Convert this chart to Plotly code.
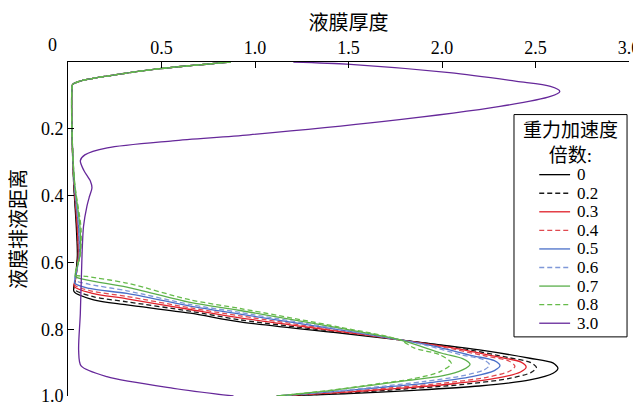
import plotly.graph_objects as go

# ---------------- data ----------------
series_names = ["0", "0.2", "0.3", "0.4", "0.5", "0.6", "0.7", "0.8", "3.0"]
series_colors = ["#000000", "#1a1a1a", "#e0202a", "#e04a50", "#4a6fc8", "#7f98d8",
                 "#5aae4a", "#66bb4a", "#66289a"]
series_dash = ["solid", "5px,3px", "solid", "5px,3px", "solid", "5px,3px", "solid", "5px,3px", "solid"]

# shared upper part of the curves for g = 0 ... 0.8
x_top = [0.87, 0.49, 0.21, 0.066, 0.025, 0.021, 0.021]
y_top = [0.0, 0.02, 0.042, 0.057, 0.067, 0.082, 0.2]

x_g00 = [0.03, 0.045, 0.05, 0.038, 0.032, 0.137, 0.315, 0.653, 0.92, 1.455, 1.775, 2.2, 2.47, 2.593, 2.62, 2.594, 2.47, 2.2, 1.85, 1.5, 1.117]
y_g00 = [0.36, 0.5, 0.58, 0.655, 0.687, 0.712, 0.727, 0.752, 0.778, 0.812, 0.832, 0.862, 0.887, 0.901, 0.917, 0.932, 0.952, 0.970, 0.983, 0.993, 1.0]

x_g02 = [0.031, 0.048, 0.052, 0.04, 0.033, 0.13, 0.315, 0.653, 0.92, 1.455, 1.775, 2.1, 2.355, 2.475, 2.505, 2.475, 2.355, 2.1, 1.8, 1.5, 1.117]
y_g02 = [0.36, 0.5, 0.58, 0.65, 0.680, 0.702, 0.718, 0.746, 0.772, 0.809, 0.832, 0.857, 0.885, 0.90, 0.915, 0.93, 0.948, 0.966, 0.979, 0.991, 1.0]

x_g03 = [0.032, 0.05, 0.055, 0.042, 0.034, 0.125, 0.315, 0.653, 0.92, 1.455, 1.775, 2.05, 2.3, 2.42, 2.45, 2.42, 2.3, 2.05, 1.75, 1.45, 1.117]
y_g03 = [0.36, 0.5, 0.58, 0.645, 0.672, 0.692, 0.709, 0.741, 0.766, 0.807, 0.832, 0.855, 0.883, 0.898, 0.913, 0.928, 0.946, 0.964, 0.978, 0.99, 1.0]

x_g04 = [0.032, 0.053, 0.057, 0.043, 0.035, 0.12, 0.315, 0.653, 0.92, 1.455, 1.775, 2.0, 2.24, 2.36, 2.39, 2.36, 2.24, 2.0, 1.72, 1.45, 1.117]
y_g04 = [0.36, 0.5, 0.58, 0.64, 0.667, 0.685, 0.702, 0.736, 0.760, 0.805, 0.832, 0.853, 0.881, 0.896, 0.911, 0.926, 0.944, 0.962, 0.976, 0.988, 1.0]

x_g05 = [0.033, 0.057, 0.06, 0.044, 0.036, 0.115, 0.315, 0.653, 0.92, 1.455, 1.775, 1.95, 2.16, 2.28, 2.31, 2.28, 2.16, 1.95, 1.7, 1.42, 1.117]
y_g05 = [0.36, 0.5, 0.58, 0.635, 0.662, 0.678, 0.693, 0.731, 0.755, 0.802, 0.832, 0.850, 0.879, 0.894, 0.909, 0.924, 0.942, 0.959, 0.973, 0.987, 1.0]

x_g06 = [0.034, 0.06, 0.062, 0.045, 0.037, 0.11, 0.315, 0.653, 0.92, 1.455, 1.775, 1.92, 2.105, 2.225, 2.255, 2.225, 2.105, 1.9, 1.68, 1.42, 1.117]
y_g06 = [0.36, 0.5, 0.58, 0.625, 0.652, 0.665, 0.685, 0.726, 0.750, 0.800, 0.832, 0.849, 0.877, 0.892, 0.907, 0.922, 0.94, 0.957, 0.971, 0.986, 1.0]

x_g07 = [0.035, 0.065, 0.064, 0.047, 0.039, 0.105, 0.315, 0.653, 0.92, 1.455, 1.775, 2.0, 2.11, 2.15, 2.11, 2.0, 1.8, 1.62, 1.4, 1.117]
y_g07 = [0.36, 0.5, 0.58, 0.617, 0.642, 0.653, 0.674, 0.720, 0.744, 0.797, 0.832, 0.872, 0.888, 0.905, 0.922, 0.94, 0.955, 0.968, 0.984, 1.0]

x_g08 = [0.035, 0.07, 0.065, 0.048, 0.04, 0.10, 0.315, 0.653, 0.92, 1.455, 1.775, 1.85, 1.99, 2.05, 1.99, 1.85, 1.65, 1.4, 1.117]
y_g08 = [0.36, 0.5, 0.58, 0.612, 0.637, 0.642, 0.662, 0.712, 0.738, 0.794, 0.832, 0.856, 0.877, 0.902, 0.927, 0.948, 0.964, 0.983, 1.0]

x_g30 = [1.205, 1.51, 2.04, 2.40, 2.58, 2.63, 2.58, 2.31, 1.69, 0.97, 0.56, 0.21, 0.09, 0.066, 0.085, 0.12, 0.128, 0.115, 0.101, 0.083, 0.075, 0.066, 0.057, 0.07, 0.208, 0.564, 0.885]
y_g30 = [0.0, 0.007, 0.032, 0.058, 0.073, 0.088, 0.103, 0.133, 0.178, 0.218, 0.236, 0.257, 0.278, 0.295, 0.325, 0.357, 0.377, 0.402, 0.432, 0.492, 0.577, 0.752, 0.865, 0.91, 0.942, 0.977, 1.0]

x_tick_vals = [0, 0.5, 1.0, 1.5, 2.0, 2.5, 3.0]
x_tick_text = ["", "0.5", "1.0", "1.5", "2.0", "2.5", "3.0"]
y_tick_vals = [0.2, 0.4, 0.6, 0.8, 1.0]
y_tick_text = ["0.2", "0.4", "0.6", "0.8", "1.0"]

x_title = "液膜厚度"
y_title = "液膜排液距离"
legend_title = "重力加速度<br>倍数:"

xs = [x_top + x_g00, x_top + x_g02, x_top + x_g03, x_top + x_g04, x_top + x_g05,
      x_top + x_g06, x_top + x_g07, x_top + x_g08, x_g30]
ys = [y_top + y_g00, y_top + y_g02, y_top + y_g03, y_top + y_g04, y_top + y_g05,
      y_top + y_g06, y_top + y_g07, y_top + y_g08, y_g30]

FONT = "Times New Roman, Liberation Serif, Noto Sans CJK SC, serif"

fig = go.Figure()
for name, xv, yv, c, d in zip(series_names, xs, ys, series_colors, series_dash):
    fig.add_trace(go.Scatter(
        x=xv, y=yv, mode="lines", name=name,
        line=dict(color=c, width=1.3, dash=d, shape="spline", smoothing=0.8),
        showlegend=False,
    ))

annotations = []

# ---------------- manual legend (layout only) ----------------
lx0, lx1, ltext = 0.840, 0.895, 0.904
ly0, lstep = 0.6627, 0.0556
shapes = [dict(type="rect", xref="paper", yref="paper", x0=0.795, x1=0.9965,
               y0=0.177, y1=0.8426, line=dict(color="black", width=1),
               fillcolor="white", layer="above")]
annotations.append(dict(xref="paper", yref="paper", x=0.895, y=0.756, text=legend_title,
                        showarrow=False, font=dict(family=FONT, size=19, color="black"),
                        xanchor="center", yanchor="middle", align="center"))
for i, (name, c, d) in enumerate(zip(series_names, series_colors, series_dash)):
    yy = ly0 - i * lstep
    shapes.append(dict(type="line", xref="paper", yref="paper", x0=lx0, x1=lx1,
                       y0=yy, y1=yy, line=dict(color=c, width=1.3, dash=d),
                       layer="above"))
    annotations.append(dict(xref="paper", yref="paper", x=ltext, y=yy, text=name,
                            showarrow=False, xanchor="left", yanchor="middle",
                            font=dict(family=FONT, size=17, color="black")))

# origin label "0" of the x axis (offset to the left as in the original)
annotations.append(dict(xref="x", yref="paper", x=0, y=1, text="0", showarrow=False,
                        xshift=-16, yshift=17, xanchor="center", yanchor="middle",
                        font=dict(family=FONT, size=18, color="black")))

# the page adds an 8 px body margin, so the figure is 8 px smaller on each side
fig.update_layout(
    width=633, height=397,
    margin=dict(l=60, r=12, t=54, b=9),
    paper_bgcolor="white", plot_bgcolor="white",
    font=dict(family=FONT, size=18, color="black"),
    shapes=shapes, annotations=annotations,
    xaxis=dict(range=[0, 3], side="top", ticks="inside", ticklen=6, tickwidth=1,
               tickcolor="black", tickvals=x_tick_vals, ticktext=x_tick_text,
               showline=True, linecolor="black", linewidth=1, showgrid=False,
               zeroline=False, tickfont=dict(family=FONT, size=18), automargin=False,
               ticklabeloverflow="allow",
               title=dict(text=x_title, font=dict(family=FONT, size=20), standoff=1)),
    yaxis=dict(range=[1.0, 0], ticks="inside", ticklen=6, tickwidth=1,
               tickcolor="black", tickvals=y_tick_vals, ticktext=y_tick_text,
               showline=True, linecolor="black", linewidth=1, showgrid=False,
               zeroline=False, tickfont=dict(family=FONT, size=18), automargin=False,
               ticklabeloverflow="allow",
               title=dict(text=y_title, font=dict(family=FONT, size=20), standoff=12)),
)

fig.write_html("out.html")
